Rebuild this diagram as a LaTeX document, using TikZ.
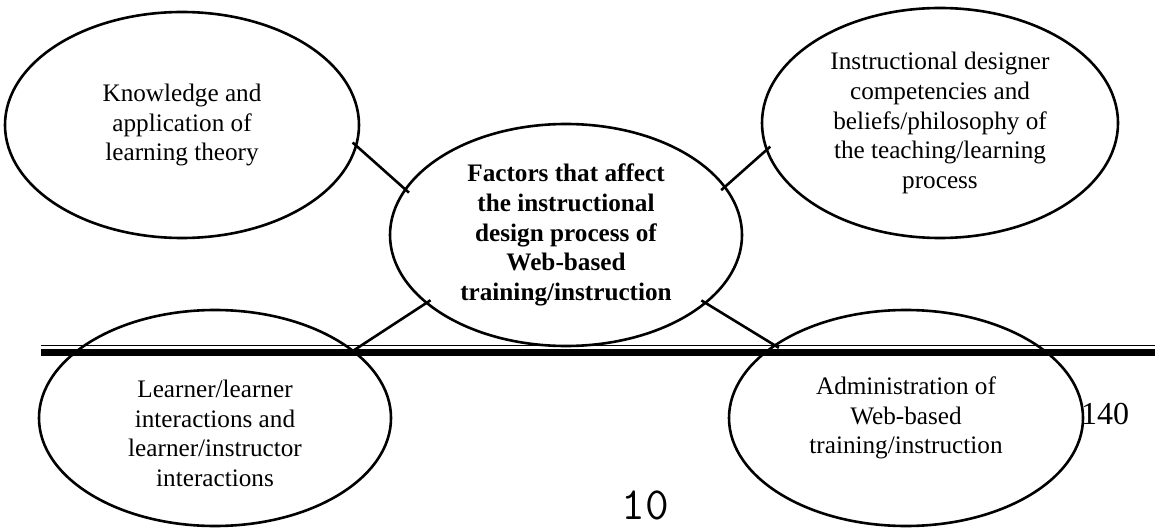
\documentclass[tikz,border=0pt]{standalone}
\usepackage{fontspec}
\setmainfont{Liberation Serif}
\usetikzlibrary{shapes.geometric,positioning}

\begin{document}
\begin{tikzpicture}[x=0.5pt, y=-0.5pt,
idea/.style={ellipse,draw,line width=1.3pt,inner sep=1pt,align=center,font=\fontsize{12.6}{14.8}\selectfont},
hub/.style={idea,font=\fontsize{12.6}{14.8}\selectfont\bfseries},
link/.style={line width=1.3pt, shorten <=-3pt, shorten >=-3pt},
pagerule/.style={line cap=butt}
]
\useasboundingbox (0,0) rectangle (1155,529);

%create nodes
\node[hub, minimum width=176pt, minimum height=111pt] (factors) at (566,235)
  {Factors that affect\\the instructional\\design process of\\Web-based\\training/instruction};

\node[idea, minimum width=177pt, minimum height=113pt] (theory) at (182,125)
  {Knowledge and\\application of\\learning theory};
\node[idea, minimum width=178pt, minimum height=115pt] (designer) at (940,123)
  {Instructional designer\\competencies and\\beliefs/philosophy of\\the teaching/learning\\process};
\node[idea, minimum width=176pt, minimum height=108pt] (interact) at (215,418)
  {\rule{0pt}{24pt}Learner/learner\\interactions and\\learner/instructor\\interactions};
\node[idea, minimum width=177pt, minimum height=108pt] (admin) at (906,418)
  {Administration of\\Web-based\\training/instruction};

%page numbers
\node[font=\fontsize{16}{18}\selectfont, inner sep=0pt] (pnum) at (1105,414) {140};
\node[font=\ttfamily\fontsize{23}{26}\selectfont, inner sep=0pt] (fignum) at (645,505) {10};

%draw links to the hub
\draw[link] (theory.-7) -- (factors.164);
\draw[link] (designer.-171) -- (factors.17);
\draw[link] (interact.26) -- (factors.206);
\draw[link] (admin.151.5) -- (factors.-26.4);

%page rule
\coordinate (ruleL) at (41,345.5);
\coordinate (ruleR) at (1155,345.5);
\draw[pagerule, line width=0.75pt] (ruleL) -- (ruleR);
\draw[pagerule, line width=3.5pt] ([yshift=-3.5pt]ruleL) -- ([yshift=-3.5pt]ruleR);

\end{tikzpicture}
\end{document}
